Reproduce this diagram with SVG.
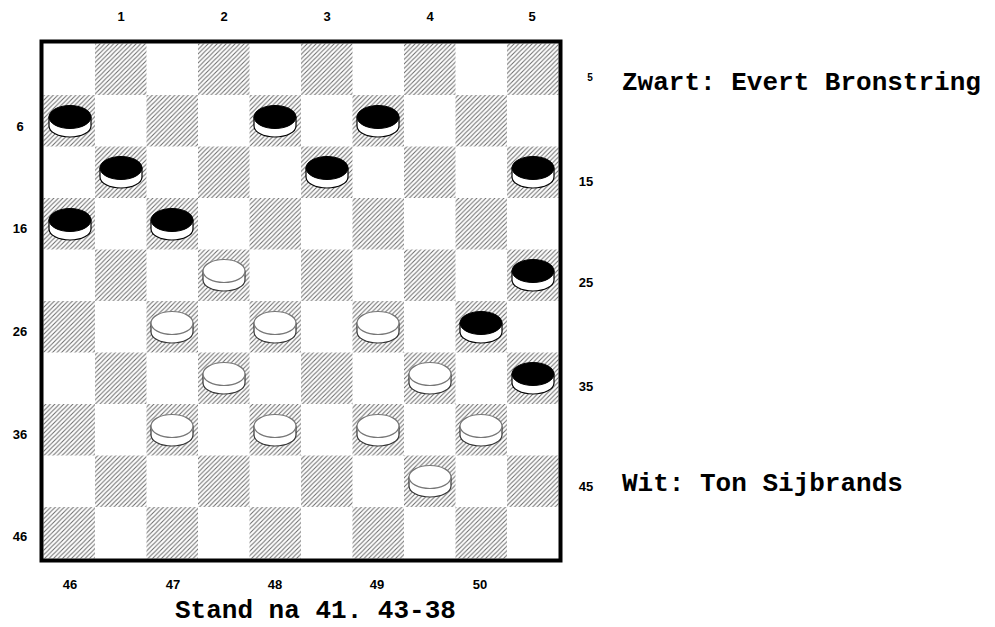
<svg xmlns="http://www.w3.org/2000/svg" xmlns:xlink="http://www.w3.org/1999/xlink" width="995" height="627" viewBox="0 0 995 627">
<style>
.lbl{font-family:"Liberation Sans Narrow","Liberation Sans",Arial,sans-serif;font-weight:bold;font-size:13px;fill:#000;text-anchor:middle}
.big{font-family:"Liberation Mono","Courier New",monospace;font-weight:bold;font-size:26px;fill:#000}
.dark{fill:url(#hatch)}
</style>
<defs>
<pattern id="hatch" patternUnits="userSpaceOnUse" width="4.5" height="4.5">
<rect width="4.5" height="4.5" fill="#fff"/>
<path d="M-1,1 L1,-1 M0,4.5 L4.5,0 M3.5,5.5 L5.5,3.5" stroke="#6a6a6a" stroke-width="1"/>
</pattern>
<g id="bp">
<path d="M-21,-4 L-21,5 A21,11 0 0 0 21,5 L21,-4 Z" fill="#fff" stroke="#000" stroke-width="1.2"/>
<ellipse cx="0" cy="-4" rx="21" ry="11.5" fill="#000" stroke="#000" stroke-width="1"/>
</g>
<g id="wp">
<path d="M-21,-4 L-21,5 A21,11 0 0 0 21,5 L21,-4 Z" fill="#fff" stroke="#333" stroke-width="1.2"/>
<ellipse cx="0" cy="-4" rx="21" ry="11.5" fill="#fff" stroke="#777" stroke-width="1.2"/>
</g>
</defs>
<rect width="995" height="627" fill="#fff"/>
<g id="board">
<g id="dark-squares">
<rect class="dark" x="95" y="43.5" width="51.5" height="51.5"/>
<rect class="dark" x="198" y="43.5" width="51.5" height="51.5"/>
<rect class="dark" x="301" y="43.5" width="51.5" height="51.5"/>
<rect class="dark" x="404" y="43.5" width="51.5" height="51.5"/>
<rect class="dark" x="507" y="43.5" width="51.5" height="51.5"/>
<rect class="dark" x="43.5" y="95" width="51.5" height="51.5"/>
<rect class="dark" x="146.5" y="95" width="51.5" height="51.5"/>
<rect class="dark" x="249.5" y="95" width="51.5" height="51.5"/>
<rect class="dark" x="352.5" y="95" width="51.5" height="51.5"/>
<rect class="dark" x="455.5" y="95" width="51.5" height="51.5"/>
<rect class="dark" x="95" y="146.5" width="51.5" height="51.5"/>
<rect class="dark" x="198" y="146.5" width="51.5" height="51.5"/>
<rect class="dark" x="301" y="146.5" width="51.5" height="51.5"/>
<rect class="dark" x="404" y="146.5" width="51.5" height="51.5"/>
<rect class="dark" x="507" y="146.5" width="51.5" height="51.5"/>
<rect class="dark" x="43.5" y="198" width="51.5" height="51.5"/>
<rect class="dark" x="146.5" y="198" width="51.5" height="51.5"/>
<rect class="dark" x="249.5" y="198" width="51.5" height="51.5"/>
<rect class="dark" x="352.5" y="198" width="51.5" height="51.5"/>
<rect class="dark" x="455.5" y="198" width="51.5" height="51.5"/>
<rect class="dark" x="95" y="249.5" width="51.5" height="51.5"/>
<rect class="dark" x="198" y="249.5" width="51.5" height="51.5"/>
<rect class="dark" x="301" y="249.5" width="51.5" height="51.5"/>
<rect class="dark" x="404" y="249.5" width="51.5" height="51.5"/>
<rect class="dark" x="507" y="249.5" width="51.5" height="51.5"/>
<rect class="dark" x="43.5" y="301" width="51.5" height="51.5"/>
<rect class="dark" x="146.5" y="301" width="51.5" height="51.5"/>
<rect class="dark" x="249.5" y="301" width="51.5" height="51.5"/>
<rect class="dark" x="352.5" y="301" width="51.5" height="51.5"/>
<rect class="dark" x="455.5" y="301" width="51.5" height="51.5"/>
<rect class="dark" x="95" y="352.5" width="51.5" height="51.5"/>
<rect class="dark" x="198" y="352.5" width="51.5" height="51.5"/>
<rect class="dark" x="301" y="352.5" width="51.5" height="51.5"/>
<rect class="dark" x="404" y="352.5" width="51.5" height="51.5"/>
<rect class="dark" x="507" y="352.5" width="51.5" height="51.5"/>
<rect class="dark" x="43.5" y="404" width="51.5" height="51.5"/>
<rect class="dark" x="146.5" y="404" width="51.5" height="51.5"/>
<rect class="dark" x="249.5" y="404" width="51.5" height="51.5"/>
<rect class="dark" x="352.5" y="404" width="51.5" height="51.5"/>
<rect class="dark" x="455.5" y="404" width="51.5" height="51.5"/>
<rect class="dark" x="95" y="455.5" width="51.5" height="51.5"/>
<rect class="dark" x="198" y="455.5" width="51.5" height="51.5"/>
<rect class="dark" x="301" y="455.5" width="51.5" height="51.5"/>
<rect class="dark" x="404" y="455.5" width="51.5" height="51.5"/>
<rect class="dark" x="507" y="455.5" width="51.5" height="51.5"/>
<rect class="dark" x="43.5" y="507" width="51.5" height="51.5"/>
<rect class="dark" x="146.5" y="507" width="51.5" height="51.5"/>
<rect class="dark" x="249.5" y="507" width="51.5" height="51.5"/>
<rect class="dark" x="352.5" y="507" width="51.5" height="51.5"/>
<rect class="dark" x="455.5" y="507" width="51.5" height="51.5"/>
</g>
<rect id="border" x="41.5" y="41.5" width="519" height="519" fill="none" stroke="#000" stroke-width="4"/>
</g>
<g id="pieces">
<g id="b6"><use xlink:href="#bp" x="70" y="121"/></g>
<g id="b8"><use xlink:href="#bp" x="275" y="121"/></g>
<g id="b9"><use xlink:href="#bp" x="378" y="121"/></g>
<g id="b11"><use xlink:href="#bp" x="121" y="172"/></g>
<g id="b13"><use xlink:href="#bp" x="327" y="172"/></g>
<g id="b15"><use xlink:href="#bp" x="533" y="172"/></g>
<g id="b16"><use xlink:href="#bp" x="70" y="224"/></g>
<g id="b17"><use xlink:href="#bp" x="172" y="224"/></g>
<g id="w22"><use xlink:href="#wp" x="224" y="275"/></g>
<g id="b25"><use xlink:href="#bp" x="533" y="275"/></g>
<g id="w27"><use xlink:href="#wp" x="172" y="327"/></g>
<g id="w28"><use xlink:href="#wp" x="275" y="327"/></g>
<g id="w29"><use xlink:href="#wp" x="378" y="327"/></g>
<g id="b30"><use xlink:href="#bp" x="481" y="327"/></g>
<g id="w32"><use xlink:href="#wp" x="224" y="378"/></g>
<g id="w34"><use xlink:href="#wp" x="430" y="378"/></g>
<g id="b35"><use xlink:href="#bp" x="533" y="378"/></g>
<g id="w37"><use xlink:href="#wp" x="172" y="430"/></g>
<g id="w38"><use xlink:href="#wp" x="275" y="430"/></g>
<g id="w39"><use xlink:href="#wp" x="378" y="430"/></g>
<g id="w40"><use xlink:href="#wp" x="481" y="430"/></g>
<g id="w44"><use xlink:href="#wp" x="430" y="481"/></g>
</g>
<g id="labels">
<text class="lbl" x="121" y="21">1</text>
<text class="lbl" x="224" y="21">2</text>
<text class="lbl" x="327" y="21">3</text>
<text class="lbl" x="430" y="21">4</text>
<text class="lbl" x="532" y="21">5</text>
<text class="lbl" x="20" y="131">6</text>
<text class="lbl" x="20" y="233">16</text>
<text class="lbl" x="20" y="336">26</text>
<text class="lbl" x="20" y="439">36</text>
<text class="lbl" x="20" y="541">46</text>
<text class="lbl" x="590" y="81" style="font-size:10px">5</text>
<text class="lbl" x="586" y="186">15</text>
<text class="lbl" x="586" y="287">25</text>
<text class="lbl" x="586" y="391">35</text>
<text class="lbl" x="586" y="491">45</text>
<text class="lbl" x="70" y="589">46</text>
<text class="lbl" x="173" y="589">47</text>
<text class="lbl" x="275" y="589">48</text>
<text class="lbl" x="377" y="589">49</text>
<text class="lbl" x="480" y="589">50</text>
<text class="big" x="622" y="90">Zwart: Evert Bronstring</text>
<text class="big" x="622" y="491">Wit: Ton Sijbrands</text>
<text class="big" x="175" y="618">Stand na 41. 43-38</text>
</g>
</svg>
